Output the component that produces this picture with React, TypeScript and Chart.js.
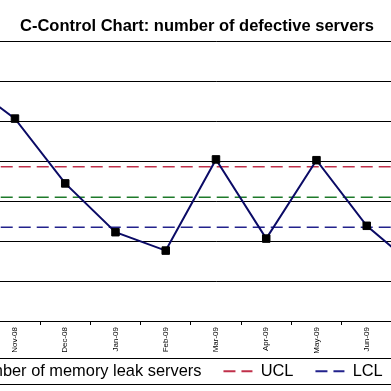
import React, { useEffect, useRef } from 'react';
import { Chart, registerables } from 'chart.js';

Chart.register(...registerables);

// ---- data ----
const months = ['Oct-08', 'Nov-08', 'Dec-08', 'Jan-09', 'Feb-09', 'Mar-09', 'Apr-09', 'May-09', 'Jun-09', 'Jul-09', 'Aug-09'];
const memoryLeakServers = [300, 253, 172, 111, 88, 202, 103, 201, 119, 66, null];
const uclValue = 192.9;
const centerValue = 154.6;
const lclValue = 117.1;
const yMin = 0;
const yMax = 350;
const yStep = 50;

const seriesLabel = 'Number of memory leak servers';
const titleText = 'C-Control Chart: number of defective servers';

const FONT = "'Liberation Sans', Arial, Helvetica, sans-serif";

const CANVAS_LEFT = -108;
const CANVAS_W = 610;
const CANVAS_H = 400;

const legendBorder = {
  id: 'legendBorder',
  afterDraw(chart: any) {
    const lg = chart.legend;
    if (!lg || !lg.legendHitBoxes || !lg.legendHitBoxes.length) return;
    const hb = lg.legendHitBoxes;
    const first = hb[0];
    const last = hb[hb.length - 1];
    const left = Math.round(first.left - 8) + 0.5;
    const right = Math.round(last.left + last.width + 8) + 0.5;
    const top = Math.round(first.top - 5) + 0.5;
    const bottom = Math.round(first.top + first.height + 5) + 0.5;
    const ctx = chart.ctx;
    ctx.save();
    ctx.strokeStyle = '#000';
    ctx.lineWidth = 1;
    ctx.setLineDash([]);
    ctx.strokeRect(left, top, right - left, bottom - top);
    ctx.restore();
  },
};

export default function App() {
  const ref = useRef<HTMLCanvasElement>(null);

  useEffect(() => {
    const canvas = ref.current;
    if (!canvas) return;
    const chart = new Chart(canvas, {
      type: 'line',
      data: {
        labels: months,
        datasets: [
          {
            label: seriesLabel,
            data: memoryLeakServers,
            borderColor: '#0B0B66',
            backgroundColor: '#000',
            borderWidth: 2,
            pointStyle: 'rect',
            pointRadius: 5.3,
            pointBackgroundColor: '#000',
            pointBorderColor: '#000',
            pointBorderWidth: 1,
            tension: 0,
            order: 0,
          },
          {
            label: 'UCL',
            data: months.map(() => uclValue),
            borderColor: '#C0304A',
            borderWidth: 1.4,
            borderDash: [12, 6],
            pointRadius: 0,
            order: 1,
          },
          {
            label: 'LCL',
            data: months.map(() => lclValue),
            borderColor: '#22228C',
            borderWidth: 1.4,
            borderDash: [12, 6],
            pointRadius: 0,
            order: 1,
          },
          {
            label: 'CL',
            data: months.map(() => centerValue),
            borderColor: '#1E7A2A',
            borderWidth: 1.4,
            borderDash: [12, 6],
            pointRadius: 0,
            order: 1,
          },
        ],
      },
      options: {
        responsive: false,
        animation: false,
        devicePixelRatio: 1,
        layout: { padding: { left: 9.6, right: 9.65, top: 0, bottom: 10.6 } },
        plugins: {
          title: {
            display: true,
            text: titleText,
            color: '#000',
            font: { family: FONT, size: 16.5, weight: 'bold' },
            padding: { top: 17, bottom: 4.2 },
          },
          legend: {
            position: 'bottom',
            labels: {
              usePointStyle: true,
              pointStyleWidth: 29,
              padding: 22,
              color: '#000',
              font: { family: FONT, size: 16.4 },
              generateLabels: (c: any) =>
                c.data.datasets.map((ds: any, i: number) => ({
                  text: ds.label,
                  fillStyle: 'rgba(0,0,0,0)',
                  strokeStyle: ds.borderColor,
                  lineWidth: 2,
                  lineDash: ds.borderDash || [],
                  pointStyle: 'line',
                  hidden: false,
                  datasetIndex: i,
                  fontColor: '#000',
                })),
            },
          },
          tooltip: { enabled: false },
        },
        scales: {
          x: {
            type: 'category',
            offset: true,
            grid: { offset: true, drawOnChartArea: false, color: '#000', tickLength: 4 },
            border: { color: '#000' },
            ticks: {
              minRotation: 90,
              maxRotation: 90,
              autoSkip: false,
              color: '#000',
              padding: 2,
              font: { family: FONT, size: 8 },
            },
            afterFit: (s: any) => {
              s.height = 20;
              // let the rotated month labels run below the (short) axis box
              s._computeLabelArea = () => undefined;
            },
          },
          y: {
            min: yMin,
            max: yMax,
            ticks: { stepSize: yStep, display: false },
            grid: { color: '#000', drawTicks: false },
            border: { display: false },
            afterFit: (s: any) => {
              s.width = 38;
            },
          },
        },
      },
      plugins: [legendBorder],
    });
    return () => chart.destroy();
  }, []);

  return (
    <div
      style={{
        position: 'fixed',
        left: 0,
        top: 0,
        width: 391,
        height: 391,
        overflow: 'hidden',
        background: '#fff',
      }}
    >
      <canvas
        ref={ref}
        width={CANVAS_W}
        height={CANVAS_H}
        style={{ position: 'absolute', left: CANVAS_LEFT, top: 0, width: CANVAS_W, height: CANVAS_H }}
      />
    </div>
  );
}
